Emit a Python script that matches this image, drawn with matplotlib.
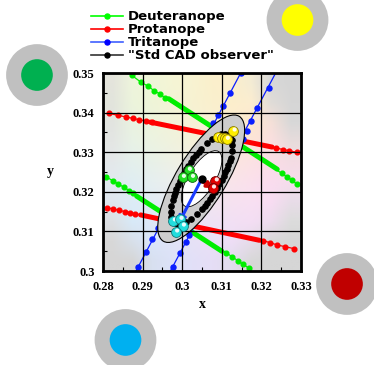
import matplotlib
matplotlib.use("Agg")
import matplotlib.pyplot as plt
import matplotlib.transforms as mtransforms
from matplotlib.patches import Ellipse, Circle
from matplotlib.lines import Line2D
from matplotlib.colors import to_rgb
import numpy as np

# --- data (chromaticity x, y) ---
# dichromat confusion lines: sparse dots at the ends, dense band in the middle
deut1_x = [0.28725, 0.28952, 0.29144, 0.29288, 0.29439, 0.29566, 0.32513, 0.32639, 0.32765, 0.32891]
deut1_y = [0.34942, 0.34773, 0.34664, 0.34553, 0.34470, 0.34369, 0.32467, 0.32381, 0.32298, 0.32197]
deut1_band = ([0.2966, 0.3240], [0.3435, 0.3257])
deut2_x = [0.28076, 0.28245, 0.28386, 0.28530, 0.28664, 0.28765, 0.31106, 0.31258, 0.31409, 0.31535, 0.31687]
deut2_y = [0.32381, 0.32280, 0.32197, 0.32114, 0.32028, 0.31962, 0.30464, 0.30361, 0.30258, 0.30172, 0.30069]
deut2_band = ([0.2885, 0.3100], [0.3189, 0.3050])

prot1_x = [0.2815, 0.2838, 0.2858, 0.2876, 0.2891, 0.2908, 0.2924, 0.3238, 0.3255, 0.3270, 0.3289]
prot1_y = [0.33979, 0.33931, 0.33890, 0.33853, 0.33822, 0.33786, 0.33753, 0.33104, 0.33068, 0.33037, 0.32998]
prot1_band = ([0.2919, 0.3227], [0.3376, 0.3313])
prot2_x = [0.28093, 0.28260, 0.28412, 0.28556, 0.28682, 0.28808, 0.3205, 0.3222, 0.3240, 0.3260, 0.3283]
prot2_y = [0.31600, 0.31564, 0.31531, 0.31500, 0.31473, 0.31446, 0.30765, 0.30715, 0.30657, 0.30614, 0.30563]
prot2_band = ([0.2895, 0.3195], [0.31416, 0.30775])

# tritanope lines: visible dots only (the rest sits under the ellipse)
trit1_x = [0.31477, 0.31207, 0.31023, 0.30912, 0.30785, 0.29396, 0.29245, 0.29078, 0.28891]
trit1_y = [0.35000, 0.34495, 0.34159, 0.33947, 0.33737, 0.31078, 0.30800, 0.30487, 0.30109]
trit2_x = [0.32192, 0.31896, 0.31737, 0.31629, 0.31528, 0.30182, 0.30093, 0.29937, 0.29760]
trit2_y = [0.34621, 0.34116, 0.33795, 0.33543, 0.33341, 0.30910, 0.30740, 0.30447, 0.30109]
trit1_ends = ([0.31477, 0.28834], [0.35000, 0.30000])
trit2_ends = ([0.32360, 0.29703], [0.35000, 0.30000])

# "Std CAD observer" ring of points
ring_x = [0.311595, 0.310809, 0.309843, 0.308727, 0.307494, 0.306184, 0.304834, 0.304156, 0.303486,
          0.302825, 0.302180, 0.301557, 0.300958, 0.300389, 0.299856, 0.299359, 0.298906, 0.298498,
          0.298138, 0.297831, 0.297576, 0.297238, 0.297131, 0.297261, 0.297623,
          0.298205, 0.298991, 0.299957, 0.301073, 0.302306, 0.303616, 0.304966, 0.305644, 0.306314,
          0.306975, 0.307620, 0.308243, 0.308842, 0.309411, 0.309944, 0.310441, 0.310894, 0.311302,
          0.311662, 0.311969, 0.312224, 0.312562, 0.312669, 0.312539, 0.312177]
ring_y = [0.334441, 0.334683, 0.334579, 0.334133, 0.333357, 0.332276, 0.330923, 0.330155, 0.329336,
          0.328471, 0.327567, 0.326631, 0.325669, 0.324689, 0.323699, 0.322705, 0.321716, 0.320739,
          0.319781, 0.318851, 0.317954, 0.316289, 0.314837, 0.313641, 0.312739,
          0.312159, 0.311917, 0.312021, 0.312467, 0.313243, 0.314324, 0.315677, 0.316445, 0.317264,
          0.318129, 0.319033, 0.319969, 0.320931, 0.321911, 0.322901, 0.323895, 0.324884, 0.325861,
          0.326819, 0.327749, 0.328646, 0.330311, 0.331763, 0.332959, 0.333861]

centre = (0.3049, 0.3232)
blue_tip = (0.2990, 0.3118)
red_tip = (0.3080, 0.3209)

yellow_x = [0.3090, 0.3101, 0.3108, 0.3112, 0.3129]
yellow_y = [0.3338, 0.3335, 0.3335, 0.3333, 0.3354]
green_x = [0.3016, 0.3001, 0.3024]
green_y = [0.3255, 0.3237, 0.3237]
red_x = [0.3084, 0.3077]
red_y = [0.3228, 0.3210]
cyan_x = [0.2978, 0.2995, 0.3001, 0.2984]
cyan_y = [0.3127, 0.3131, 0.3114, 0.3099]

# reference swatches around the plot
swatch_x = [0.26333, 0.32912, 0.34162, 0.28568]
swatch_y = [0.34949, 0.36338, 0.29672, 0.28258]
swatch_c = ["#00b050", "#ffff00", "#c00000", "#00b0f0"]

xticks = [0.28, 0.29, 0.30, 0.31, 0.32, 0.33]
xtick_labels = ["0.28", "0.29", "0.3", "0.31", "0.32", "0.33"]
yticks = [0.30, 0.31, 0.32, 0.33, 0.34, 0.35]
ytick_labels = ["0.3", "0.31", "0.32", "0.33", "0.34", "0.35"]

# pastel chromaticity backdrop, rows top (y=0.35) to bottom
bg = [
    ["#e4e4dc", "#eef5dc", "#f0f6d8", "#f5f5d5", "#f8f3d2", "#fbf0cc", "#fcefcc", "#f4ecd4", "#d8d8d8", "#d5d5d5"],
    ["#e2e4dc", "#ecf4dc", "#eff5d8", "#f3f4d6", "#f7f2d2", "#faf0ce", "#fcefcc", "#fcedd0", "#e0dcd8", "#d6d6d6"],
    ["#e2e4e0", "#eaf3e0", "#eef4dc", "#f2f3da", "#f6f2d6", "#faf0d2", "#fdeed0", "#fde8d0", "#f5e0d8", "#d8d8d8"],
    ["#e4e6e4", "#e8f2e6", "#ecf3e2", "#f0f2de", "#f5f1da", "#f9efd8", "#fce9d6", "#fde4d8", "#fbdfe0", "#e8dcdc"],
    ["#e4e8ea", "#e4f0ec", "#e8f1e8", "#eef1e6", "#f4efe4", "#f8ece2", "#fbe6e0", "#fce2e4", "#fbdde6", "#f4dce4"],
    ["#e2eaf0", "#e0eef2", "#e6eff0", "#ecefee", "#f2ecec", "#f6e8ea", "#f9e4ea", "#fbe0ec", "#fadcee", "#f6dcec"],
    ["#dfe6ee", "#dcecf6", "#e2ecf4", "#e8eaf2", "#eee8f0", "#f2e6f0", "#f6e2f0", "#f8e0f2", "#f8dcf2", "#e8dce8"],
    ["#dde0e4", "#d8eaf8", "#dee8f8", "#e4e6f6", "#eae4f4", "#eee2f4", "#f2e0f4", "#f4def4", "#eedcee", "#dcdcdc"],
    ["#d8d8d8", "#d8e0ea", "#dae6fa", "#e0e4f8", "#e6e2f6", "#eae0f6", "#eedef6", "#e6dcea", "#d8d8d8", "#d6d6d6"],
    ["#d6d6d6", "#d6d6d6", "#d8e0f0", "#dce2f8", "#e2e0f8", "#e6def6", "#e2dcee", "#d8d8d8", "#d6d6d6", "#d6d6d6"],
]

serif = {"family": "Liberation Serif", "weight": "bold"}

fig = plt.figure(figsize=(3.74, 3.65), dpi=100)
ax = fig.add_axes([103 / 374, 94 / 365, 198 / 374, 198 / 365])

img = np.array([[to_rgb(c) for c in row] for row in bg])
ax.imshow(img, extent=(0.28, 0.33, 0.30, 0.35), origin="upper", interpolation="bilinear",
          aspect="auto", zorder=0)

GREEN, RED, BLUE = "#00ee00", "#ff0000", "#0a1eff"
for xs, ys, band, col in [(deut1_x, deut1_y, deut1_band, GREEN), (deut2_x, deut2_y, deut2_band, GREEN),
                          (prot1_x, prot1_y, prot1_band, RED), (prot2_x, prot2_y, prot2_band, RED)]:
    ax.plot(xs, ys, "-", color=col, lw=0.9, marker="o", ms=3.4, zorder=1)
    ax.plot(band[0], band[1], "-", color=col, lw=3.6, solid_capstyle="round", zorder=1)
for xs, ys, ends in [(trit1_x, trit1_y, trit1_ends), (trit2_x, trit2_y, trit2_ends)]:
    ax.plot(ends[0], ends[1], "-", color=BLUE, lw=0.9, zorder=1)
    ax.plot(xs, ys, "o", color=BLUE, ms=3.6, zorder=1)

# discrimination ellipse
ax.add_patch(Ellipse((0.3048, 0.3233), width=0.0369, height=0.0125, angle=58.7,
                     facecolor="#cdcdcd", edgecolor="k", lw=0.8, zorder=1.5))
ax.add_patch(Ellipse((0.3049, 0.3233), width=0.0162, height=0.0066, angle=58,
                     facecolor="white", edgecolor="k", lw=0.6, zorder=1.6))
ax.plot(ring_x, ring_y, "o", color="k", ms=3.8, zorder=2)

ax.annotate("", xy=blue_tip, xytext=centre, zorder=3,
            arrowprops=dict(arrowstyle="-|>", color="#1a3cff", lw=2.2, mutation_scale=11, shrinkA=0, shrinkB=0))
ax.annotate("", xy=red_tip, xytext=(0.3052, 0.3225), zorder=3,
            arrowprops=dict(arrowstyle="-|>", color="#cc0000", lw=2.4, mutation_scale=9, shrinkA=0, shrinkB=0))
ax.plot(*centre, "o", color="k", ms=5, zorder=3.2)

hl = mtransforms.offset_copy(ax.transData, fig=fig, x=1.3, y=1.3, units="dots")
z = 4
for xs, ys, face, edge in [(yellow_x, yellow_y, "#ffee00", "#8a7a00"), (green_x, green_y, "#22dd22", "#116611"),
                           (red_x, red_y, "#e00000", "#700000"), (cyan_x, cyan_y, "#22dddd", "#117777")]:
    for x, y in zip(xs, ys):
        ax.scatter([x], [y], s=50, c=face, edgecolors=edge, linewidths=0.6, zorder=z)
        ax.scatter([x], [y], s=9, c="white", edgecolors="none", alpha=0.9, zorder=z + 0.01, transform=hl)
        z += 0.02

for cx, cy, col in zip(swatch_x, swatch_y, swatch_c):
    ax.add_patch(Circle((cx, cy), 0.0078, facecolor="#c0c0c0", edgecolor="none", clip_on=False, zorder=5))
    ax.add_patch(Circle((cx, cy), 0.0040, facecolor=col, edgecolor="none", clip_on=False, zorder=5.1))

ax.set_xlim(0.28, 0.33)
ax.set_ylim(0.30, 0.35)
ax.set_xticks(xticks)
ax.set_xticklabels(xtick_labels, fontdict=serif, fontsize=9)
ax.set_yticks(yticks)
ax.set_yticklabels(ytick_labels, fontdict=serif, fontsize=9)
ax.set_xticks([0.285, 0.295, 0.305, 0.315, 0.325], minor=True)
ax.set_yticks([0.305, 0.315, 0.325, 0.335, 0.345], minor=True)
ax.tick_params(which="major", direction="in", length=0, pad=6)
ax.tick_params(axis="x", which="major", pad=7.5)
ax.tick_params(which="minor", direction="in", length=3, width=0.8)
ax.set_axisbelow(False)
ax.grid(True, which="major", color="k", lw=0.9)
for s in ax.spines.values():
    s.set_linewidth(2)
ax.set_xlabel("x", fontdict=serif, fontsize=10, labelpad=3.5)
ax.set_ylabel("y", fontdict=serif, fontsize=10, rotation=0, va="center")
ax.yaxis.set_label_coords(-0.268, 0.5)

handles = [
    Line2D([], [], color="#00ff00", marker="o", ms=3.6, lw=1.2),
    Line2D([], [], color="#ff0000", marker="o", ms=3.6, lw=1.2),
    Line2D([], [], color="#4060ff", marker="o", ms=3.6, lw=1.2, mfc="#0000ff", mec="#0000ff"),
    Line2D([], [], color="#333333", marker="o", ms=3.6, lw=1.2, mfc="k", mec="k"),
]
labels = ["Deuteranope", "Protanope", "Tritanope", '"Std CAD observer"']
fig.legend(handles, labels, loc="upper left", bbox_to_anchor=(82 / 374, 1 - 1 / 365), frameon=False,
           prop={"family": "DejaVu Sans", "weight": "bold", "size": 9.5}, handlelength=2.4,
           handletextpad=0.4, labelspacing=0.0, borderpad=0.2)

fig.savefig("out.png", dpi=100)
